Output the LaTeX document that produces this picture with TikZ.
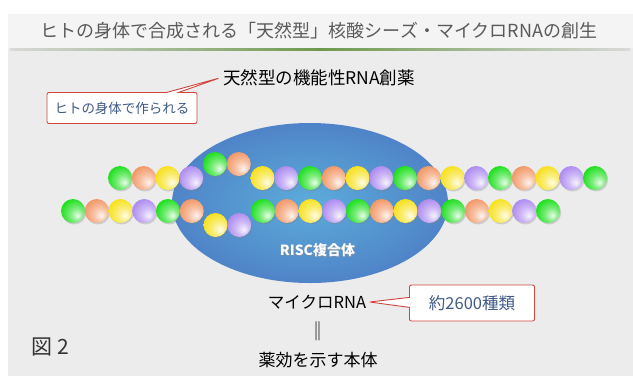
\documentclass[tikz,border=0pt]{standalone}
\usepackage{fontspec}
\setmainfont{Noto Sans CJK JP}
\usetikzlibrary{shapes.callouts,shadows}

\definecolor{panelgray}{HTML}{ECECEC}
\definecolor{bandgray}{HTML}{F4F4F4}
\definecolor{titlegray}{HTML}{5A5A5A}
\definecolor{rulegreen}{HTML}{6E9A4E}
\definecolor{notered}{HTML}{D2453F}
\definecolor{noteblue}{HTML}{3F5A86}
\definecolor{risclight}{HTML}{5CACDA}
\definecolor{riscdark}{HTML}{4F84C8}
% nucleotide colours, in chain order
\definecolor{nuc0}{HTML}{1FE01F}
\definecolor{nuc1}{HTML}{F29868}
\definecolor{nuc2}{HTML}{F7E11E}
\definecolor{nuc3}{HTML}{AE8CF0}

% bead shading, highlight towards the lower right
\colorlet{sphc}{nuc0}
\pgfdeclareradialshading[sphc]{sphere}{\pgfpoint{10bp}{-10bp}}{%
  color(0bp)=(sphc!10!white); color(14bp)=(sphc!60!white);
  color(30bp)=(sphc); color(50bp)=(sphc!88!black)}

\begin{document}
\begin{tikzpicture}[x=1pt,y=-1pt,
  bead/.style={circle, minimum size=24pt, inner sep=0pt, shading=sphere,
    drop shadow={shadow xshift=1.2pt, shadow yshift=-1.5pt, opacity=0.3}},
  note/.style={rectangle callout, draw=notered, line width=0.9pt, fill=white,
    rounded corners=2pt, text=noteblue, inner sep=0pt}]
\useasboundingbox (0,0) rectangle (633,376);

% Background panel and title band
\fill[panelgray] (8,14) rectangle (633,376);
\fill[bandgray] (8,14) rectangle (633,48);
\shade[left color=gray!30, right color=gray!30, middle color=rulegreen]
  (10,48) rectangle (630,50);
\node[text=titlegray, font=\fontsize{18}{20}\selectfont] (title) at (319,31)
  {ヒトの身体で合成される「天然型」核酸シーズ・マイクロRNAの創生};

% RISC complex
\shade[inner color=risclight, outer color=riscdark]
  (310,203) ellipse [x radius=138pt, y radius=80pt];
\node[text=black!45, opacity=0.6, font=\bfseries\fontsize{14}{16}\selectfont] at (318.5,251) {RISC複合体};
\node[text=white, font=\bfseries\fontsize{14}{16}\selectfont] (risc) at (317.5,250) {RISC複合体};

% Upper strand
\foreach \i in {0,...,20} {
  \pgfmathtruncatemacro\c{mod(\i,4)}
  \pgfmathsetmacro\yy{(\i==4 || \i==5) ? 164 : 178}
  \colorlet{sphc}{nuc\c}
  \node[bead] (up\i) at (120+23.75*\i,\yy) {};
}

% Lower strand
\foreach \i in {0,...,20} {
  \pgfmathtruncatemacro\c{mod(\i,4)}
  \pgfmathsetmacro\yy{(\i==6 || \i==7) ? 225 : 211}
  \colorlet{sphc}{nuc\c}
  \node[bead] (lo\i) at (73+23.75*\i,\yy) {};
}

% Labels
\node[font=\fontsize{17.5}{20}\selectfont] (drug) at (319,78) {天然型の機能性RNA創薬};
\node[note, minimum width=150pt, minimum height=31pt, callout pointer width=12pt,
  callout absolute pointer={(drug.west)}, font=\fontsize{13.5}{15}\selectfont]
  (made) at (122,108) {ヒトの身体で作られる};

\node[font=\fontsize{16.5}{18}\selectfont] (mirna) at (317,302) {マイクロRNA};
\node[font=\fontsize{19}{20}\selectfont] (eq) at (318,331) {‖};
\node[font=\fontsize{17}{18}\selectfont] (body) at (318,360) {薬効を示す本体};
\node[note, minimum width=125pt, minimum height=36pt, callout pointer width=10pt,
  callout absolute pointer={(mirna.east)}, font=\fontsize{16.5}{18}\selectfont]
  (count) at (472,303) {約2600種類};

\node[text=black!80, anchor=west, font=\fontsize{21}{23}\selectfont] (fig) at (28,347) {図 2};
\end{tikzpicture}
\end{document}
